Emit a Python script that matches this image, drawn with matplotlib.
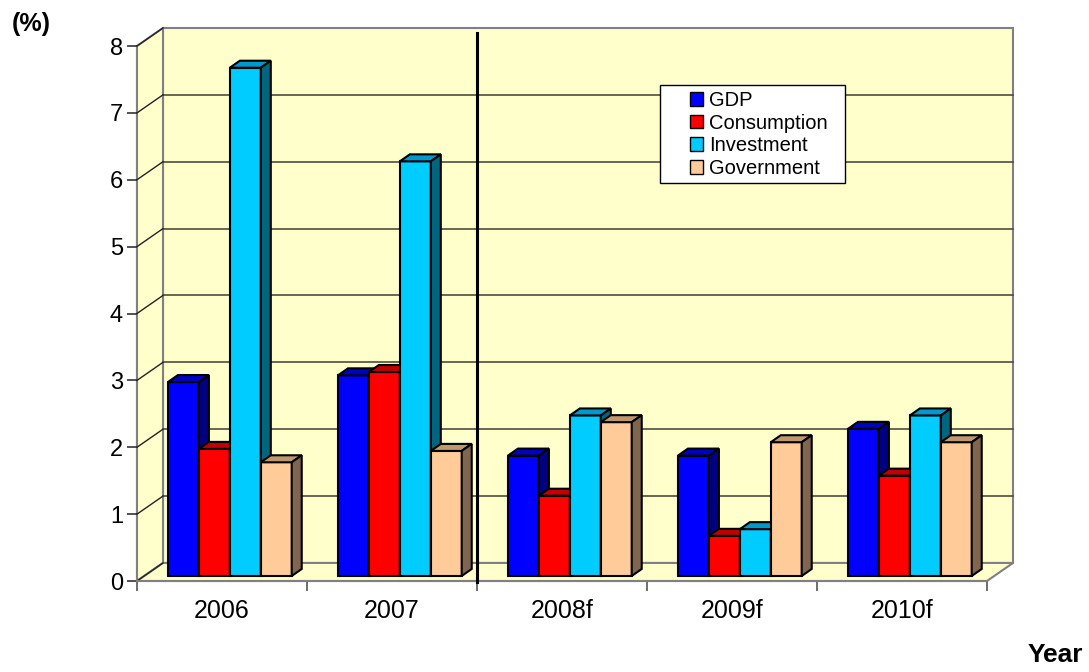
import matplotlib
matplotlib.use("Agg")
import matplotlib.pyplot as plt
from matplotlib.patches import Polygon, Patch, Rectangle

plt.rcParams['font.family'] = ['Liberation Sans', 'DejaVu Sans']

years = ['2006', '2007', '2008f', '2009f', '2010f']
series = ['GDP', 'Consumption', 'Investment', 'Government']
gdp = [2.9, 3.0, 1.8, 1.8, 2.2]
consumption = [1.9, 3.05, 1.2, 0.6, 1.5]
investment = [7.6, 6.2, 2.4, 0.7, 2.4]
government = [1.7, 1.87, 2.3, 2.0, 2.0]
values = [gdp, consumption, investment, government]

front = ['#0000FF', '#FF0000', '#00CCFF', '#FFCC99']
top = ['#0000C0', '#C00000', '#0099CC', '#C09870']
side = ['#000080', '#800000', '#006680', '#806650']

W, H = 1089, 672
fig = plt.figure(figsize=(W / 100, H / 100), dpi=100)
ax = fig.add_axes([137 / W, 1 - 581 / H, 850 / W, 535 / H])
ax.set_xlim(0, 5)
ax.set_ylim(0, 8)

# depth of the chart box (data units)
wx, wy = 0.153, 0.27
wall = '#FFFFCC'
edge = '#808080'

# back wall, left wall, floor
ax.add_patch(Polygon([(wx, wy), (5 + wx, wy), (5 + wx, 8 + wy), (wx, 8 + wy)],
                     closed=True, fc=wall, ec=edge, lw=1.5, clip_on=False, zorder=1))
ax.add_patch(Polygon([(0, 0), (wx, wy), (wx, 8 + wy), (0, 8)],
                     closed=True, fc=wall, ec=edge, lw=1.5, clip_on=False, zorder=1))
ax.add_patch(Polygon([(0, 0), (5, 0), (5 + wx, wy), (wx, wy)],
                     closed=True, fc=wall, ec=edge, lw=1.5, clip_on=False, zorder=1))
for v in range(0, 9):
    if 0 < v < 8:
        ax.plot([wx, 5 + wx], [v + wy, v + wy], color='#4d4d40', lw=1.2,
                clip_on=False, zorder=2)
    ax.plot([0, wx], [v, v + wy], color='#222222', lw=1, clip_on=False, zorder=2)

# separator between actuals and forecasts
ax.plot([2, 2], [-0.02, 8.2], color='black', lw=2.2, clip_on=False, zorder=6)

# bars with 3D faces
bw = 0.182
start = 0.182
base = 0.075
bx, by = 0.059, 0.105
for i in range(len(years)):
    for j, vals in enumerate(values):
        x0 = i + start + j * bw
        x1 = x0 + bw
        y1 = base + vals[i]
        ax.add_patch(Polygon([(x0, base), (x1, base), (x1, y1), (x0, y1)],
                             fc=front[j], ec='black', lw=1.5, clip_on=False, zorder=3))
        ax.add_patch(Polygon([(x0, y1), (x1, y1), (x1 + bx, y1 + by), (x0 + bx, y1 + by)],
                             fc=top[j], ec='black', lw=1.5, clip_on=False, zorder=3))
        ax.add_patch(Polygon([(x1, base), (x1 + bx, base + by), (x1 + bx, y1 + by), (x1, y1)],
                             fc=side[j], ec='black', lw=1.5, clip_on=False, zorder=3))

for s in ['top', 'right']:
    ax.spines[s].set_visible(False)
ax.spines['left'].set_color(edge)
ax.spines['bottom'].set_color(edge)
ax.spines['left'].set_linewidth(1.5)
ax.spines['bottom'].set_linewidth(1.5)
ax.spines['left'].set_zorder(0)
ax.patch.set_visible(False)

ax.set_yticks(range(0, 9))
ax.tick_params(axis='y', length=7, width=1.2, color='#333333', labelsize=17, pad=3)
ax.set_xticks(range(0, 6))
ax.set_xticklabels([])
ax.set_xticks([i + 0.5 for i in range(5)], minor=True)
ax.set_xticklabels(years, minor=True)
ax.tick_params(axis='x', which='major', length=7, width=1.2, color='#555555')
ax.tick_params(axis='x', which='minor', length=0, labelsize=18, pad=13)

# legend box
fig.patches.append(Rectangle((660 / W, 1 - 183 / H), 185 / W, 98 / H,
                             transform=fig.transFigure, fc='white', ec='black',
                             lw=1, zorder=9))
handles = [Patch(fc=front[j], ec='black', lw=1) for j in range(4)]
leg = fig.legend(handles, series, loc='upper left',
                 bbox_to_anchor=(690 / W, 1 - 91 / H),
                 fontsize=14.5, frameon=False, handlelength=0.65,
                 handleheight=0.65, handletextpad=0.3, labelspacing=0.18,
                 borderpad=0, borderaxespad=0)
leg.set_zorder(10)

fig.text(31 / W, 1 - 24 / H, '(%)', fontsize=18, fontweight='bold', ha='center', va='center')
fig.text(1083 / W, 1 - 655 / H, 'Year', fontsize=19, fontweight='bold', ha='right', va='center')

fig.savefig('out.png', dpi=100)
